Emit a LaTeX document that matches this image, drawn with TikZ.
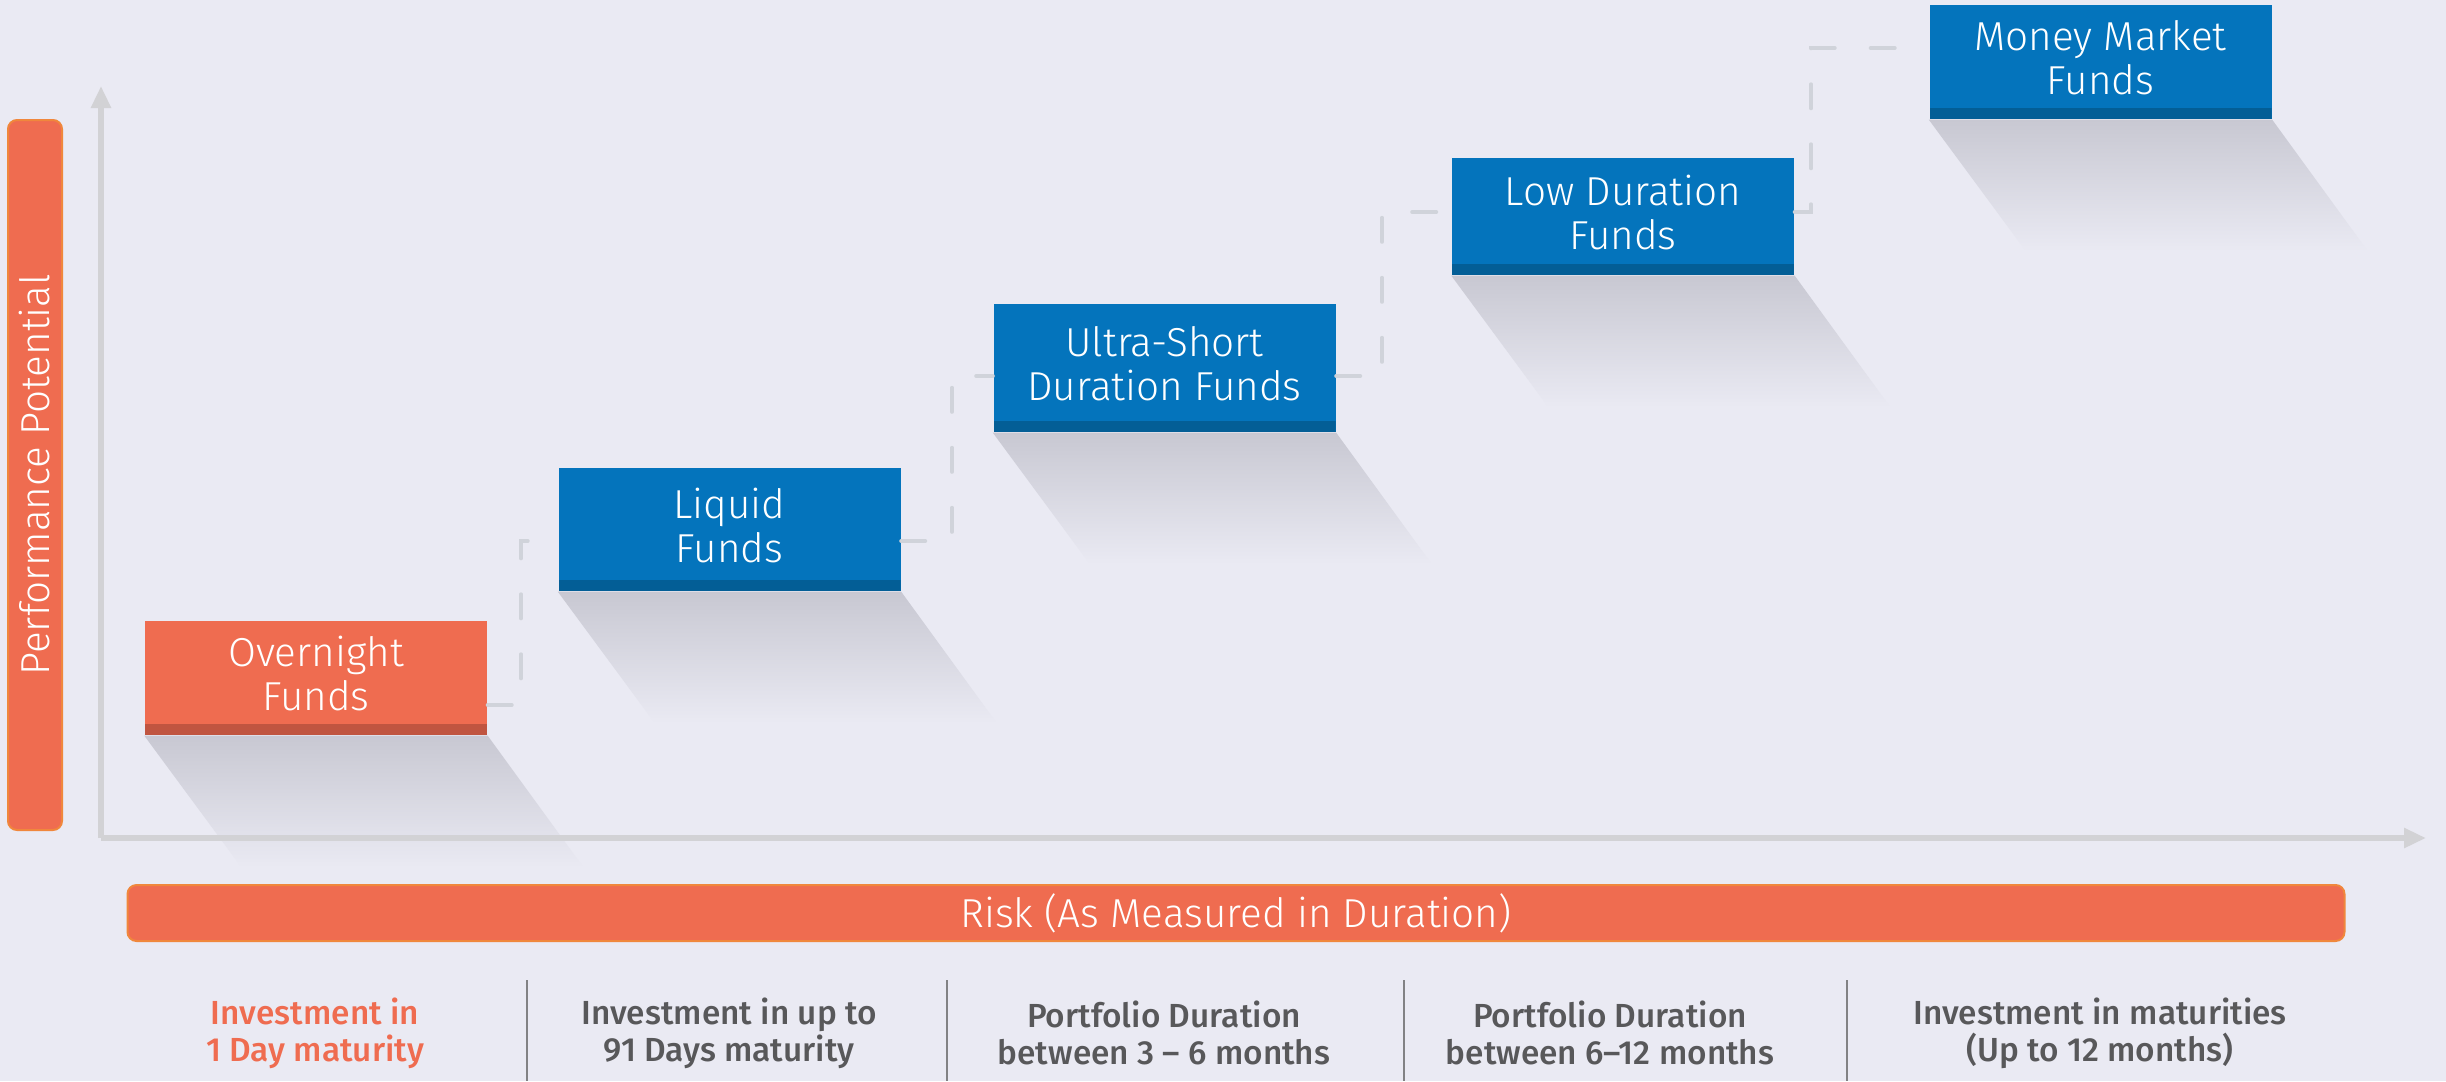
\documentclass[tikz,border=0pt]{standalone}
\usepackage{fontspec}
\setmainfont{Fira Sans}
\newfontfamily\lightfont{Fira Sans Light}
\newfontfamily\medfont{Fira Sans Medium}
\usepackage{tikz}
\usetikzlibrary{arrows.meta}
\usetikzlibrary{calc}
\usetikzlibrary{positioning}

\definecolor{bgcol}{RGB}{234,234,243}
\definecolor{fundorange}{RGB}{239,108,80}
\definecolor{fundorangedark}{RGB}{192,85,64}
\definecolor{barborder}{RGB}{240,135,60}
\definecolor{fundblue}{RGB}{4,116,188}
\definecolor{fundbluedark}{RGB}{3,94,150}
\definecolor{axisgray}{RGB}{210,210,213}
\definecolor{stairgray}{RGB}{208,211,218}
\definecolor{shadowgray}{RGB}{200,200,210}
\definecolor{labelgray}{RGB}{88,88,90}
\definecolor{sepgray}{RGB}{130,130,132}

\begin{document}
\begin{tikzpicture}[x=0.1mm, y=-0.1mm,
    fundbox/.style={minimum width=34.2mm, inner sep=0pt, text=white, align=center, text depth=0.9mm,
        font=\lightfont\fontsize{11.5}{12.5}\selectfont,
        path picture={\fill[#1] (path picture bounding box.south west) rectangle ([yshift=1.1mm]path picture bounding box.south east);}},
    orangebox/.style={fundbox=fundorangedark, fill=fundorange},
    bluebox/.style={fundbox=fundbluedark, fill=fundblue},
    boxshadow/.style={top color=shadowgray, bottom color=bgcol},
    stair/.style={stairgray, line width=0.4mm, line cap=round, dash pattern=on 2.4mm off 3.6mm},
    axis/.style={axisgray, line width=0.55mm, -{Triangle[length=2.2mm, width=1.9mm]}},
    bar/.style={fill=fundorange, draw=barborder, line width=0.2mm, rounded corners=0.9mm, inner sep=0pt, text=white,
        font=\lightfont\fontsize{11.5}{13}\selectfont},
    steplabel/.style={align=center, text=labelgray, font=\medfont\fontsize{9.5}{10.6}\selectfont},
    sep/.style={sepgray, line width=0.15mm}]

\useasboundingbox (0,0) rectangle (2446,1081);
\fill[bgcol] (0,0) rectangle (2446,1081);

\node[orangebox, minimum height=11.4mm] (over)  at (316,678)    {Overnight\\Funds};
\node[bluebox,   minimum height=12.3mm] (liquid) at (729.5,529.5) {Liquid\\Funds};
\node[bluebox,   minimum height=12.8mm] (ultra) at (1164.5,368)  {Ultra-Short\\Duration Funds};
\node[bluebox,   minimum height=11.7mm] (low)   at (1623,216.5)  {Low Duration\\Funds};
\node[bluebox,   minimum height=11.4mm] (money) at (2100.5,62)   {Money Market\\Funds};

\shade[boxshadow] (over.south west) -- (over.south east) -- ++(96,132) -- ++(-342,0) -- cycle;
\shade[boxshadow] (liquid.south west) -- (liquid.south east) -- ++(96,132) -- ++(-342,0) -- cycle;
\shade[boxshadow] (ultra.south west) -- (ultra.south east) -- ++(96,132) -- ++(-342,0) -- cycle;
\shade[boxshadow] (low.south west) -- (low.south east) -- ++(96,132) -- ++(-342,0) -- cycle;
\shade[boxshadow] (money.south west) -- (money.south east) -- ++(96,132) -- ++(-342,0) -- cycle;

\coordinate (origin) at (101,838);
\draw[axis] (origin) -- (101,86);
\draw[axis] (origin) -- (2426,838);

\draw[stair] (over.east |- 0,705) -| (521,541) -- (liquid.west |- 0,541);
\draw[stair] (liquid.east |- 0,541) -| (952,376) -- (ultra.west |- 0,376);
\draw[stair] (ultra.east |- 0,376) -| (1382,212) -- (low.west |- 0,212);
\draw[stair] (low.east |- 0,212) -| (1811,48) -- (money.west |- 0,48);

\node[bar, rotate=90, minimum width=71mm, minimum height=5.4mm] (perf) at (35,475) {Performance Potential};
\node[bar, minimum width=221.7mm, minimum height=5.6mm] (risk) at (1236,913) {Risk (As Measured in Duration)};

\node[steplabel, text=fundorange] (lab1) at (315,1033)  {Investment in\\1 Day maturity};
\node[steplabel] (lab2) at (729,1033)  {Investment in up to\\91 Days maturity};
\node[steplabel] (lab3) at (1164,1033) {Portfolio Duration\\between 3 – 6 months};
\node[steplabel] (lab4) at (1610,1033) {Portfolio Duration\\between 6–12 months};
\node[steplabel] (lab5) at (2100,1033) {Investment in maturities\\(Up to 12 months)};

\draw[sep] (527,980) -- (527,1081);
\draw[sep] (947,980) -- (947,1081);
\draw[sep] (1404,980) -- (1404,1081);
\draw[sep] (1847,980) -- (1847,1081);

\end{tikzpicture}
\end{document}
